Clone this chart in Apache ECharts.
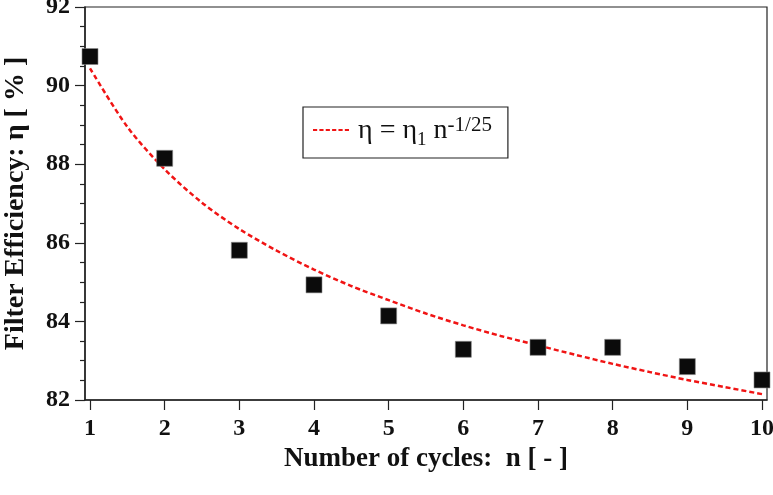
<!DOCTYPE html>
<html><head><meta charset="utf-8">
<script src="https://cdn.jsdelivr.net/npm/echarts@6/dist/echarts.min.js"></script>
<style>html,body{margin:0;padding:0;background:#fff}#c{width:773px;height:495px}</style>
</head><body><div id="c"></div>
<script>
var cycles = [1, 2, 3, 4, 5, 6, 7, 8, 9, 10];
var efficiency = [90.74, 88.15, 85.81, 84.93, 84.14, 83.29, 83.34, 83.34, 82.85, 82.51];
var fitN = [1, 1.5, 2, 2.5, 3, 3.5, 4, 4.5, 5, 5.5, 6, 6.5, 7, 7.5, 8, 8.5, 9, 9.5, 10];
var fitEta = [90.44, 88.95, 87.87, 87.02, 86.35, 85.80, 85.32, 84.90, 84.54, 84.20, 83.90, 83.63, 83.39, 83.15, 82.92, 82.71, 82.51, 82.33, 82.15];
var xTicks = [1, 2, 3, 4, 5, 6, 7, 8, 9, 10];
var yTicks = [82, 84, 86, 88, 90, 92];

var F = '"Liberation Serif","Times New Roman",serif';
var dashIcon = 'path://M0,0h4.2v2h-4.2z M6.4,0h4.2v2h-4.2z M12.8,0h4.2v2h-4.2z M19.2,0h4.2v2h-4.2z M25.6,0h4.2v2h-4.2z M32,0h4.2v2h-4.2z';
var chart = echarts.init(document.getElementById('c'));
chart.setOption({
  animation: false,
  grid: {left: 85, right: 6, top: 7, bottom: 95, show: true, borderColor: '#222', borderWidth: 1.2, containLabel: false, outerBoundsMode: 'none'},
  xAxis: {
    type: 'value', min: 0.933, max: 10.067,
    name: 'Number of cycles:  n [ - ]', nameLocation: 'middle', nameGap: 46,
    nameTextStyle: {fontFamily: F, fontWeight: 'bold', fontSize: 27, color: '#111'},
    axisLine: {show: true, lineStyle: {color: '#222', width: 1.5}},
    axisTick: {show: true, inside: false, length: 10, lineStyle: {color: '#222', width: 1.2}, customValues: xTicks},
    axisLabel: {fontFamily: F, fontWeight: 'bold', fontSize: 24, color: '#111', margin: 17, customValues: xTicks},
    splitLine: {show: false}
  },
  yAxis: {
    type: 'value', min: 82, max: 92, interval: 2,
    name: 'Filter Efficiency: η [ % ]', nameLocation: 'middle', nameGap: 55, nameRotate: 90,
    nameTextStyle: {fontFamily: F, fontWeight: 'bold', fontSize: 28, color: '#111'},
    axisLine: {show: true, lineStyle: {color: '#222', width: 1.5}},
    axisTick: {show: true, inside: false, length: 10, lineStyle: {color: '#222', width: 1.2}},
    minorTick: {show: true, splitNumber: 4, length: 5, lineStyle: {color: '#222', width: 1.2}},
    axisLabel: {fontFamily: F, fontWeight: 'bold', fontSize: 24, color: '#111', margin: 15},
    splitLine: {show: false}
  },
  legend: {
    show: true, left: 303, top: 107,
    data: [{name: 'fit', icon: dashIcon, itemStyle: {color: '#f01414'}}],
    padding: [8, 16, 8, 10],
    borderColor: '#222', borderWidth: 1.2, backgroundColor: '#fff',
    itemWidth: 36, itemHeight: 2.5, itemGap: 0,
    formatter: function () { return '{a|η = η}{s|1}{a| n}{p|-1/25}'; },
    textStyle: {
      fontFamily: F, color: '#111', fontSize: 28, padding: [0, 0, 0, 4],
      rich: {
        a: {fontFamily: F, fontSize: 28, color: '#111', verticalAlign: 'bottom', lineHeight: 30},
        s: {fontFamily: F, fontSize: 19, color: '#111', verticalAlign: 'bottom', padding: [0, 0, -5, 0], lineHeight: 30},
        p: {fontFamily: F, fontSize: 21, color: '#111', verticalAlign: 'top', lineHeight: 30}
      }
    }
  },
  series: [
    {
      name: 'fit', type: 'line', smooth: 0.3, symbol: 'none',
      data: fitN.map(function (n, i) { return [n, fitEta[i]]; }),
      lineStyle: {color: '#f01414', width: 2.5, type: [5, 3]},
      itemStyle: {color: '#f01414'},
      z: 3
    },
    {
      name: 'data', type: 'scatter', symbol: 'rect', symbolSize: 16,
      data: cycles.map(function (n, i) { return [n, efficiency[i]]; }),
      itemStyle: {color: '#0b0b0b', borderColor: '#888', borderWidth: 0.6, opacity: 1},
      z: 4
    }
  ]
});
</script></body></html>
